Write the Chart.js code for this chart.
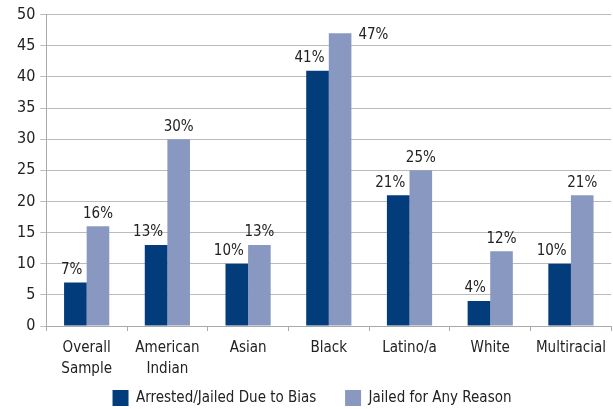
<!DOCTYPE html>
<html>
<head>
<meta charset="utf-8">
<script src="https://cdn.jsdelivr.net/npm/chart.js@4"></script>
<style>
  html, body { margin: 0; padding: 0; background: #fff; }
  #wrap { width: 613px; height: 409px; }
</style>
</head>
<body>
<div id="wrap"><canvas id="chart" width="613" height="409"></canvas></div>
<script>
var categories = [['Overall', 'Sample'], ['American', 'Indian'], 'Asian', 'Black', 'Latino/a', 'White', 'Multiracial'];
var arrestedBias = [7, 13, 10, 41, 21, 4, 10];
var jailedAny = [16, 30, 13, 47, 25, 12, 21];
var yTicks = [0, 5, 10, 15, 20, 25, 30, 35, 40, 45, 50];

var FONT = '"DejaVu Sans Condensed", "Liberation Sans Narrow", Arial, sans-serif';

// draws the percent label above each bar (beside it when there is no room on top)
var barLabels = {
    id: 'barLabels',
    afterDatasetsDraw: function(chart) {
        var ctx = chart.ctx;
        var top = chart.chartArea.top;
        ctx.save();
        ctx.font = '15px ' + FONT;
        ctx.fillStyle = '#222';
        chart.data.datasets.forEach(function(ds, i) {
            var meta = chart.getDatasetMeta(i);
            meta.data.forEach(function(bar, j) {
                var txt = ds.data[j] + '%';
                if (bar.y - 20 < top) {
                    ctx.textAlign = 'left';
                    ctx.textBaseline = 'middle';
                    ctx.fillText(txt, bar.x + bar.width / 2 + 7, bar.y + 2);
                } else if (i === 0) {
                    ctx.textAlign = 'right';
                    ctx.textBaseline = 'bottom';
                    ctx.fillText(txt, bar.x + 7, bar.y - 5);
                } else {
                    ctx.textAlign = 'center';
                    ctx.textBaseline = 'bottom';
                    ctx.fillText(txt, bar.x, bar.y - 5);
                }
            });
        });
        ctx.restore();
    }
};

var ctx = document.getElementById('chart').getContext('2d');
new Chart(ctx, {
    type: 'bar',
    data: {
        labels: categories,
        datasets: [{
            label: 'Arrested/Jailed Due to Bias',
            data: arrestedBias,
            backgroundColor: '#023c7b',
            categoryPercentage: 0.56,
            barPercentage: 1
        }, {
            label: 'Jailed for Any Reason',
            data: jailedAny,
            backgroundColor: '#8898c1',
            categoryPercentage: 0.56,
            barPercentage: 1
        }]
    },
    options: {
        responsive: false,
        animation: false,
        layout: { padding: { top: 9, right: 1, left: 12, bottom: -7 } },
        plugins: {
            legend: {
                position: 'bottom',
                labels: {
                    boxWidth: 16,
                    boxHeight: 16,
                    padding: 3,
                    color: '#222',
                    font: { family: FONT, size: 15 },
                    // trailing spaces widen the gap between the two items
                    generateLabels: function(chart) {
                        var items = Chart.defaults.plugins.legend.labels.generateLabels(chart);
                        items[0].text = items[0].text + '      ';
                        return items;
                    }
                }
            },
            tooltip: { enabled: false }
        },
        scales: {
            x: {
                grid: { drawOnChartArea: false, drawTicks: true, tickLength: 5, color: '#aaa' },
                border: { color: '#aaa' },
                ticks: { color: '#222', font: { family: FONT, size: 15, lineHeight: 1.4 }, maxRotation: 0, padding: 7 }
            },
            y: {
                min: 0,
                max: 50,
                afterBuildTicks: function(axis) {
                    axis.ticks = yTicks.map(function(v) { return { value: v }; });
                },
                grid: { color: '#bbb', tickLength: 6 },
                border: { color: '#aaa' },
                ticks: { color: '#222', font: { family: FONT, size: 16 }, padding: 5 }
            }
        }
    },
    plugins: [barLabels]
});
</script>
</body>
</html>
